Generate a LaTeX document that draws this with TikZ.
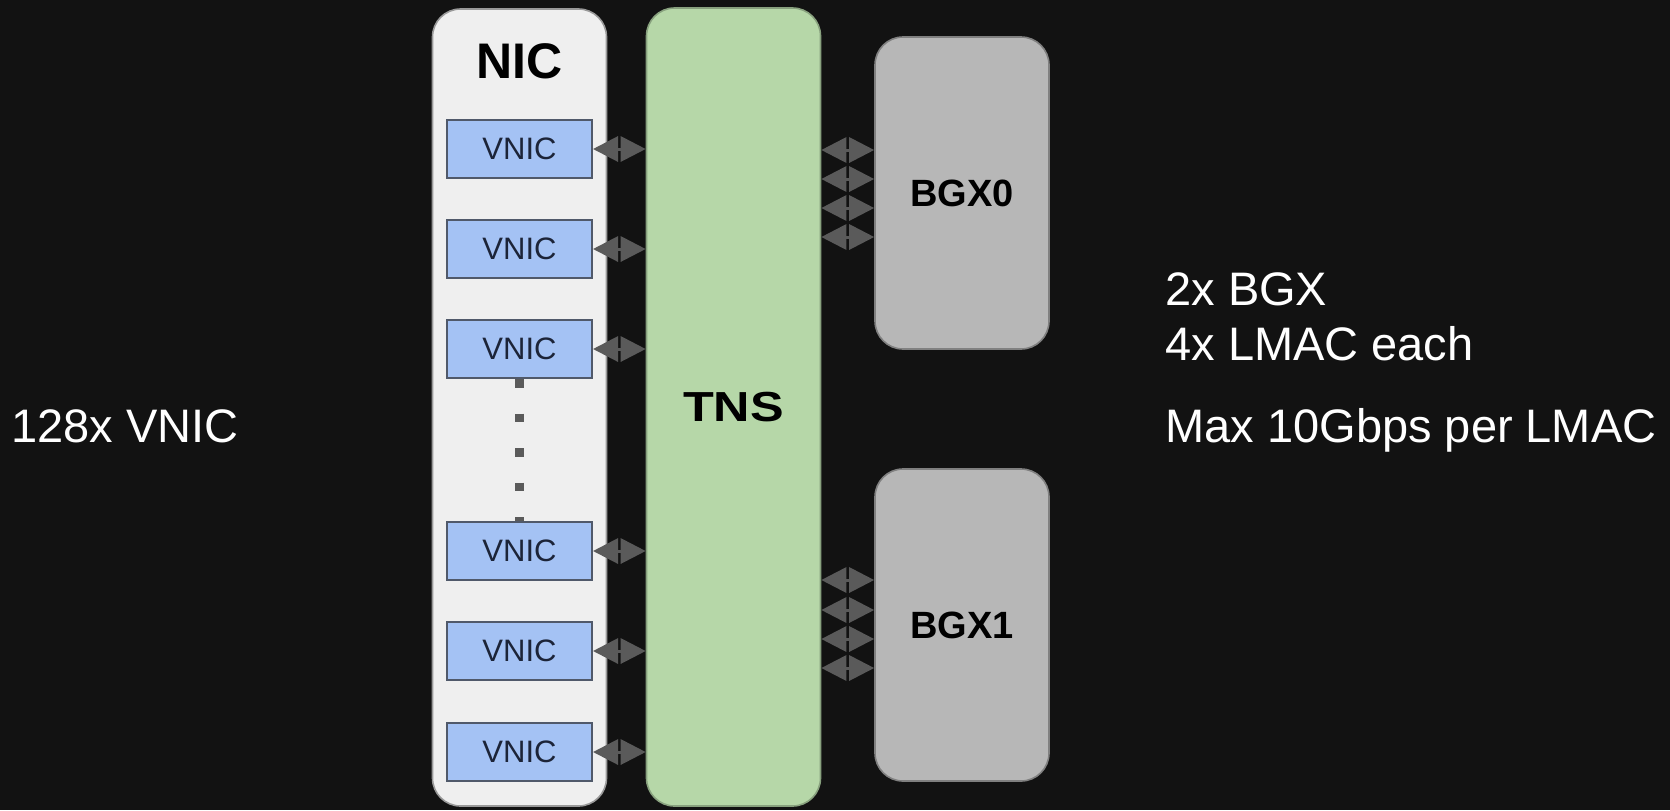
\documentclass[tikz,border=0pt]{standalone}
\usepackage{fontspec}
\setmainfont{Liberation Sans}
\usetikzlibrary{arrows.meta,positioning}
\definecolor{bgdark}{HTML}{121212}
\definecolor{nicfill}{HTML}{EFEFEF}
\definecolor{tnsfill}{HTML}{B6D7A8}
\definecolor{bgxfill}{HTML}{B7B7B7}
\definecolor{vnicfill}{HTML}{A4C2F4}
\definecolor{vnicline}{HTML}{50596A}
\definecolor{vnictext}{HTML}{1C2438}
\definecolor{linkgray}{HTML}{5A5A5A}
\begin{document}
\begin{tikzpicture}[x=0.5pt,y=-0.5pt,
  every node/.style={inner sep=0pt},
  block/.style={rounded corners=14pt,line width=0.8pt,minimum width=87pt,font=\bfseries\fontsize{21}{25}\selectfont},
  vnicbox/.style={draw=vnicline,fill=vnicfill,line width=1pt,minimum width=72.5pt,minimum height=29pt,
    text=vnictext,font=\fontsize{15.5}{18}\selectfont},
  link/.style={{Triangle[length=12.5pt,width=12.5pt]}-{Triangle[length=12.5pt,width=12.5pt]},line width=1.5pt,draw=linkgray},
  note/.style={anchor=base west,text=white,font=\fontsize{23.5}{28}\selectfont}]
% dark backdrop, fixes the page size
\fill[bgdark] (0,0) rectangle (1670,810);
\useasboundingbox (0,0) rectangle (1670,810);
% big blocks
\node[block,draw=gray!80,fill=nicfill,minimum height=398.5pt] (nic) at (519.5,407.5) {};
\node[font=\bfseries\fontsize{25}{30}\selectfont,anchor=base] (niclabel) at (519.5,78) {NIC};
\node[block,draw=tnsfill!75!black,fill=tnsfill,minimum height=399pt] (tns) at (733.5,407) {\scalebox{1.2}[1]{TNS}};
\node[block,draw=gray,fill=bgxfill,minimum height=156pt,font=\bfseries\fontsize{19}{23}\selectfont] (bgx0) at (962,193) {BGX0};
\node[block,draw=gray,fill=bgxfill,minimum height=156pt,font=\bfseries\fontsize{19}{23}\selectfont] (bgx1) at (962,625) {BGX1};
% VNICs and their links to TNS
\foreach \i/\y in {1/149,2/249,3/349,4/551,5/651,6/752} {
  \node[vnicbox] (vnic\i) at (519.5,\y) {VNIC};
  \draw[link] (vnic\i.east) -- (vnic\i.east -| tns.west);
}
\draw[linkgray,line width=4.25pt,dash pattern=on 4.25pt off 13pt] (vnic3.south) -- (vnic4.north);
% LMAC links
\foreach \y in {150,179,208,237} \draw[link] (tns.east |- 0,\y) -- (bgx0.west |- 0,\y);
\foreach \y in {580,610,639,668} \draw[link] (tns.east |- 0,\y) -- (bgx1.west |- 0,\y);
% side notes
\node[note] (vnicnote) at (11,442) {128x VNIC};
\node[note] (bgxnote) at (1165,305) {2x BGX};
\node[note] (lmacnote) at (1165,360) {4x LMAC each};
\node[note] (speednote) at (1165,442) {Max 10Gbps per LMAC};
\end{tikzpicture}
\end{document}
